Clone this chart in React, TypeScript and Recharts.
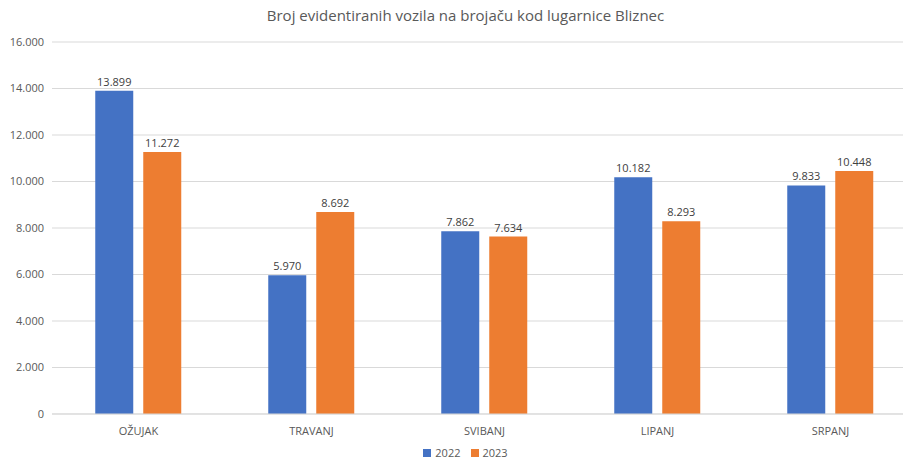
import { Bar, BarChart, CartesianGrid, LabelList, Legend, XAxis, YAxis } from "recharts";

const months = ["OŽUJAK", "TRAVANJ", "SVIBANJ", "LIPANJ", "SRPANJ"];
const values2022 = [13899, 5970, 7862, 10182, 9833];
const values2023 = [11272, 8692, 7634, 8293, 10448];
const yTicks = [0, 2000, 4000, 6000, 8000, 10000, 12000, 14000, 16000];

const data = months.map((month, i) => ({
    month,
    y2022: values2022[i],
    y2023: values2023[i],
}));

const fmt = (v: number) => (v === 0 ? "0" : v.toLocaleString("de-DE"));

const font = "'Open Sans', sans-serif";

export default function App() {
    return (
        <div style={{ position: "absolute", left: 0, top: 0, width: 903, height: 464, background: "#fff", fontFamily: font, overflow: "hidden" }}>
            <div
                style={{
                    position: "absolute",
                    top: 5,
                    left: 14,
                    width: 903,
                    textAlign: "center",
                    fontSize: 15,
                    color: "#595959",
                }}
            >
                Broj evidentiranih vozila na brojaču kod lugarnice Bliznec
            </div>
            <BarChart
                width={903}
                height={464}
                data={data}
                margin={{ top: 42, right: -14, left: 0, bottom: 0 }}
                barCategoryGap="25%"
                barGap={10}
            >
                <CartesianGrid vertical={false} stroke="#d9d9d9" />
                <XAxis
                    dataKey="month"
                    height={24}
                    tickLine={false}
                    tickMargin={7}
                    axisLine={{ stroke: "#d9d9d9" }}
                    tick={{ fontSize: 11, fill: "#595959", fontFamily: font }}
                />
                <YAxis
                    width={52}
                    domain={[0, 16000]}
                    ticks={yTicks}
                    tickFormatter={fmt}
                    tickLine={false}
                    axisLine={false}
                    tick={{ fontSize: 11, fill: "#595959", fontFamily: font }}
                />
                <Legend
                    height={26}
                    iconType="square"
                    iconSize={8}
                    wrapperStyle={{ top: 444, left: 12, lineHeight: "14px" }}
                    formatter={(value) => <span style={{ color: "#595959", fontSize: 11, lineHeight: "14px" }}>{value}</span>}
                />
                <Bar dataKey="y2022" name="2022" fill="#4472C4" isAnimationActive={false}>
                    <LabelList dataKey="y2022" position="top" formatter={fmt} style={{ fontSize: 11, fill: "#404040", fontFamily: font }} />
                </Bar>
                <Bar dataKey="y2023" name="2023" fill="#ED7D31" isAnimationActive={false}>
                    <LabelList dataKey="y2023" position="top" formatter={fmt} style={{ fontSize: 11, fill: "#404040", fontFamily: font }} />
                </Bar>
            </BarChart>
        </div>
    );
}
